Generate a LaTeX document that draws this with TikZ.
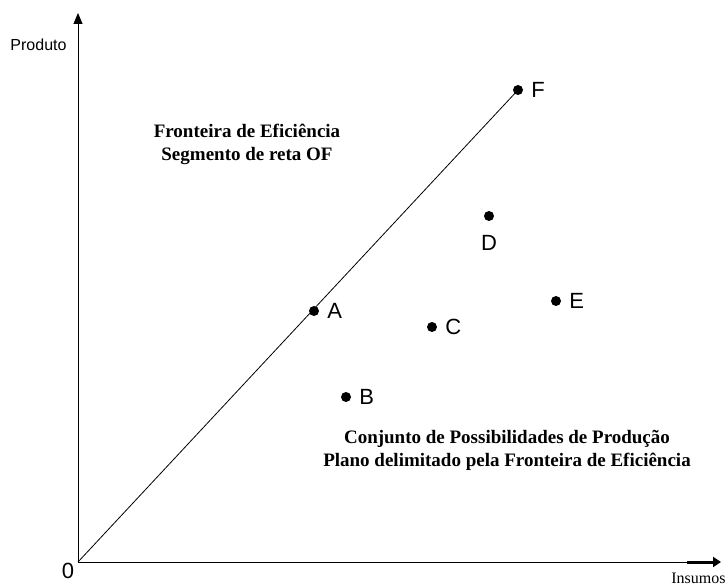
\documentclass[tikz,border=0pt]{standalone}
\usepackage{fontspec}
\setmainfont{Liberation Serif}
\newfontfamily\arialfont{Liberation Sans}
\usepackage{tikz}
\usetikzlibrary{positioning,arrows.meta}

\tikzset{
  axis/.style={line width=0.8pt, -{Triangle[length=11pt,width=9pt]}},
  dmu/.style={circle, fill=black, inner sep=0pt, minimum size=10pt},
  dmulabel/.style={inner sep=0pt, font=\arialfont\fontsize{22}{26}\selectfont},
  axislabel/.style={inner sep=0pt},
  note/.style={inner sep=0pt, align=center, font=\fontsize{19}{23}\selectfont\bfseries}
}

\begin{document}
\begin{tikzpicture}[x=1pt,y=-1pt]
        \useasboundingbox (0,0) rectangle (728,585);

        % Draw the axes
        \coordinate (O) at (78,562);
        \coordinate (ytip) at (78,13);
        \coordinate (xtip) at (721,562);
        \coordinate (xbar) at (687,562);
        \draw[line width=0.8pt] (O) -- (xbar);
        \draw[line width=3pt, -{Triangle[length=8pt,width=10pt]}] (xbar) -- (xtip);
        \draw[axis] (O) -- (ytip);

        % Axis labels
        \node[axislabel, font=\arialfont\fontsize{16}{19}\selectfont, anchor=base] (produto) at (38.5,51) {Produto};
        \node[axislabel, font=\fontsize{16}{19}\selectfont, anchor=base] (insumos) at (698.5,583) {Insumos};
        \node[axislabel, font=\arialfont\fontsize{22}{26}\selectfont] (zero) at (68,571) {0};

        % Draw the DMUs
        \foreach \n/\x/\y in {A/314/311, B/346/397, C/432/327, E/556/301, F/518/90} {
            \node[dmu] (\n) at (\x,\y) {};
            \node[dmulabel, right=8pt of \n] (lab\n) {\n};
        }
        \node[dmu] (D) at (489,216) {};
        \node[dmulabel, below=14pt of D] (labD) {D};

        % Efficient frontier OF
        \draw[line width=0.8pt] (O) -- (F.center);

        % Notes
        \node[note] (fronteira) at (247,144) {Fronteira de Eficiência\\Segmento de reta OF};
        \node[note] (conjunto) at (507,450) {Conjunto de Possibilidades de Produção\\Plano delimitado pela Fronteira de Eficiência};
\end{tikzpicture}
\end{document}
